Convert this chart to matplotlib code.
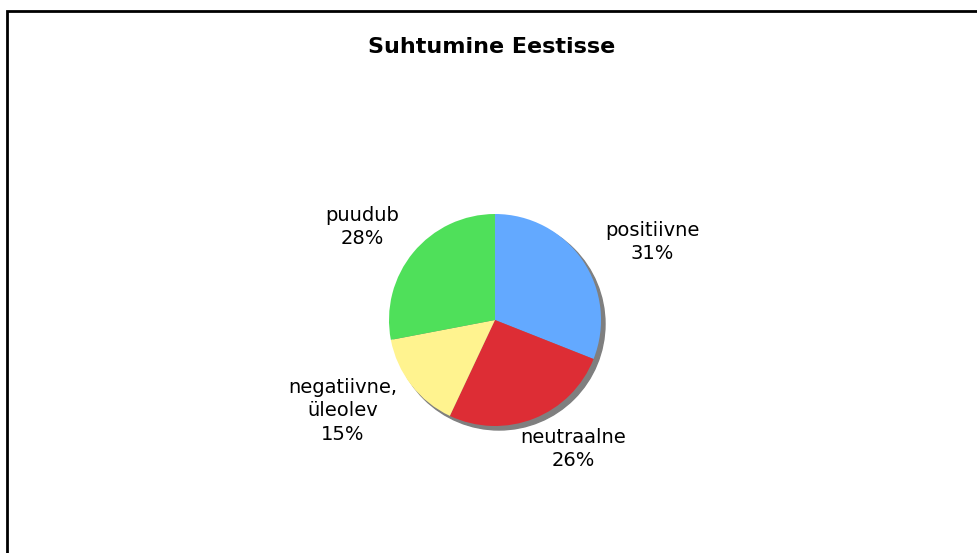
import numpy as np
import matplotlib.pyplot as plt
from matplotlib.patches import Circle, Rectangle

labels = ['positiivne', 'neutraalne', 'negatiivne,\nüleolev', 'puudub']
shares = [31, 26, 15, 28]
colors = ['#63A9FF', '#DD2D35', '#FFF38F', '#4FE05A']

# label positions in pixels (x, y from top)
label_pos = [(652, 242), (573, 449), (343, 411), (362, 227)]

W, H = 977, 553
cx, cy, r = 495, H - 320, 106

fig = plt.figure(figsize=(W / 100, H / 100), dpi=100)
ax = fig.add_axes([0, 0, 1, 1])

# frame round the chart area
fig.patches.append(Rectangle((7 / W, -0.1), 1.1, 1 - 11 / H + 0.1, transform=fig.transFigure,
                             fill=False, edgecolor='black', linewidth=2))

# shadow
ax.add_patch(Circle((cx + 4, cy - 4), r, color='#7f7f7f', zorder=1))

ax.pie(shares, colors=colors, startangle=90, counterclock=False,
       radius=r, center=(cx, cy), frame=True,
       wedgeprops=dict(linewidth=0, zorder=2))
ax.set_xlim(0, W)
ax.set_ylim(0, H)
ax.set_aspect('equal')
ax.axis('off')

for lab, s, (x, y) in zip(labels, shares, label_pos):
    ax.text(x, H - y, f'{lab}\n{s}%', ha='center', va='center', fontsize=14,
            linespacing=1.32, zorder=3)

ax.text(492, H - 47, 'Suhtumine Eestisse', ha='center', va='center',
        fontsize=16, fontweight='bold')

fig.savefig('out.png', dpi=100)
